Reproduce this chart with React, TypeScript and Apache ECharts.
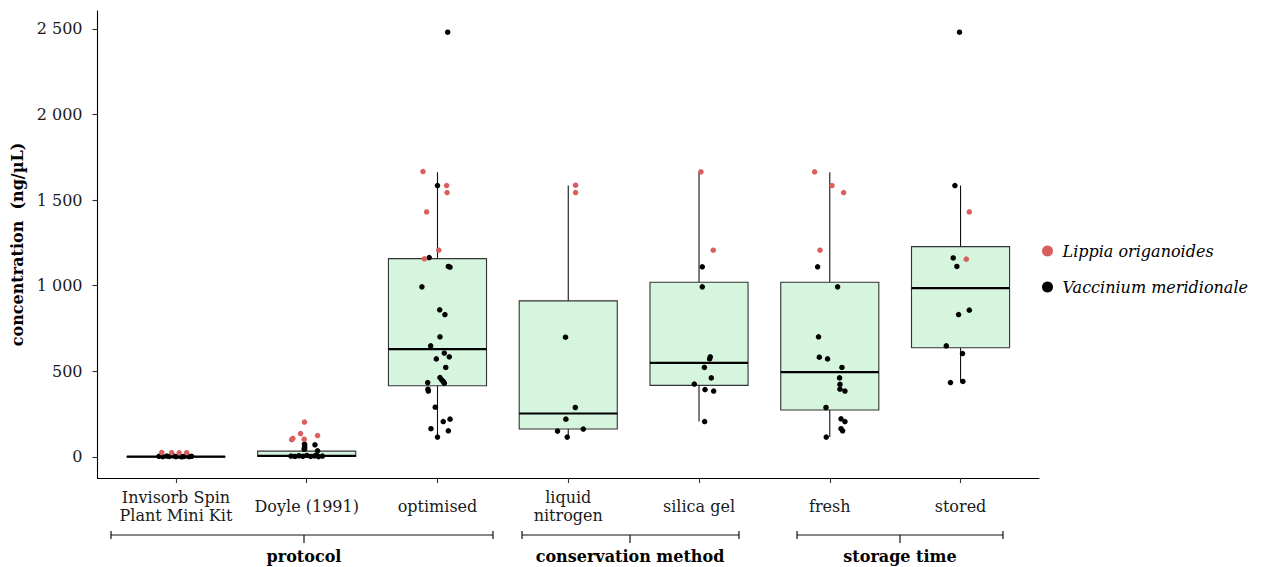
import React, { useEffect, useRef } from "react";
import * as echarts from "echarts";

const categories = [
  "Invisorb Spin\nPlant Mini Kit",
  "Doyle (1991)",
  "optimised",
  "liquid\nnitrogen",
  "silica gel",
  "fresh",
  "stored",
];
const yTicks = [0, 500, 1000, 1500, 2000, 2500];

const boxMin = [0, 0, 115, 115, 206, 115, 436];
const boxQ1 = [0, 2, 415, 162, 417, 273, 637];
const boxMedian = [1, 5, 629, 253, 549, 495, 985];
const boxQ3 = [2, 33, 1158, 911, 1020, 1020, 1228];
const boxMax = [6, 74, 1663, 1585, 1665, 1663, 1585];

// [category index, jitter, concentration]
const lippia: number[][] = [
  [0, -0.109, 25], [0, -0.033, 24], [0, 0.025, 23], [0, 0.082, 24],
  [1, -0.017, 203], [1, -0.047, 136], [1, -0.106, 107], [1, -0.115, 100], [1, -0.019, 103], [1, 0.083, 124],
  [2, -0.111, 1667], [2, 0.07, 1585], [2, 0.073, 1544], [2, -0.083, 1431], [2, 0.01, 1207], [2, -0.1, 1157],
  [3, 0.056, 1587], [3, 0.056, 1544],
  [4, 0.015, 1665], [4, 0.109, 1207],
  [5, -0.116, 1665], [5, 0.017, 1585], [5, 0.106, 1544], [5, -0.075, 1207],
  [6, 0.067, 1431], [6, 0.044, 1155],
];

const vaccinium: number[][] = [
  [0, -0.13, 3], [0, -0.1, 1], [0, -0.07, 4], [0, -0.05, 2], [0, -0.02, 5], [0, 0.0, 1],
  [0, 0.03, 3], [0, 0.06, 2], [0, 0.08, 6], [0, 0.1, 1], [0, 0.12, 3], [0, -0.11, 6], [0, 0.045, 0],
  [1, -0.017, 74], [1, 0.063, 70], [1, -0.017, 57], [1, 0.083, 35], [1, -0.02, 45],
  [1, -0.12, 4], [1, -0.09, 2], [1, -0.06, 6], [1, -0.03, 3], [1, 0.0, 8], [1, 0.03, 2],
  [1, 0.06, 5], [1, 0.09, 1], [1, 0.12, 4], [1, 0.075, 9],
  [2, 0.078, 2481], [2, 0.0, 1585], [2, -0.063, 1164], [2, 0.083, 1112], [2, 0.096, 1108],
  [2, -0.119, 993], [2, 0.017, 859], [2, 0.057, 831], [2, 0.019, 701], [2, -0.052, 648],
  [2, 0.052, 606], [2, 0.09, 584], [2, -0.009, 572], [2, 0.063, 522], [2, 0.019, 463],
  [2, 0.032, 450], [2, 0.044, 440], [2, 0.052, 430], [2, -0.075, 434], [2, -0.073, 395],
  [2, -0.07, 384], [2, -0.017, 290], [2, 0.096, 220], [2, 0.044, 206], [2, -0.05, 164],
  [2, 0.083, 152], [2, 0.0, 115],
  [3, -0.021, 699], [3, 0.054, 288], [3, -0.018, 220], [3, 0.115, 162], [3, -0.082, 150], [3, -0.008, 115],
  [4, 0.025, 1110], [4, 0.025, 993], [4, 0.086, 584], [4, 0.081, 572], [4, 0.041, 522],
  [4, 0.094, 461], [4, -0.036, 425], [4, 0.046, 393], [4, 0.112, 384], [4, 0.043, 206],
  [5, -0.093, 1110], [5, 0.06, 993], [5, -0.086, 701], [5, -0.08, 582], [5, -0.017, 572],
  [5, 0.093, 522], [5, 0.075, 461], [5, 0.078, 423], [5, 0.078, 395], [5, 0.116, 384],
  [5, -0.029, 288], [5, 0.086, 222], [5, 0.116, 206], [5, 0.086, 164], [5, 0.098, 152], [5, -0.027, 115],
  [6, -0.008, 2481], [6, -0.043, 1585], [6, -0.056, 1162], [6, -0.028, 1112], [6, 0.067, 857],
  [6, -0.015, 831], [6, -0.109, 648], [6, 0.015, 603], [6, -0.077, 434], [6, 0.018, 440],
];

const groupLabels = ["protocol", "conservation method", "storage time"];
const bracketGeom = [
  { x1: 111, x2: 493, xc: 304 },
  { x1: 522, x2: 739, xc: 630 },
  { x1: 797, x2: 1003, xc: 900 },
];

const FONT = '"DejaVu Serif", serif';

export default function App() {
  const ref = useRef<HTMLDivElement>(null);
  useEffect(() => {
    if (!ref.current) return;
    const chart = echarts.init(ref.current, null, { renderer: "svg" });

    const boxData = categories.map((_, i) => [i, boxMin[i], boxQ1[i], boxMedian[i], boxQ3[i], boxMax[i]]);

    const graphics: any[] = [];
    const by = 535;
    bracketGeom.forEach((g, i) => {
      const st = { stroke: "#111", lineWidth: 1.2 };
      graphics.push({ type: "line", shape: { x1: g.x1, y1: by, x2: g.x2, y2: by }, style: st });
      graphics.push({ type: "line", shape: { x1: g.x1, y1: by - 4, x2: g.x1, y2: by + 4 }, style: st });
      graphics.push({ type: "line", shape: { x1: g.x2, y1: by - 4, x2: g.x2, y2: by + 4 }, style: st });
      graphics.push({ type: "line", shape: { x1: g.xc, y1: by, x2: g.xc, y2: by + 8 }, style: st });
      graphics.push({
        type: "text",
        x: g.xc,
        y: 556,
        style: {
          text: groupLabels[i],
          font: `bold 16px ${FONT}`,
          fill: "#000",
          textAlign: "center",
          align: "center",
          textVerticalAlign: "middle",
          verticalAlign: "middle",
        },
      });
    });

    chart.setOption({
      animation: false,
      grid: { left: 97.5, right: 227, top: 11, bottom: 89, containLabel: false },
      legend: {
        orient: "vertical",
        left: 1037,
        top: 238,
        itemWidth: 20,
        itemHeight: 11,
        itemGap: 20,
        icon: "circle",
        textStyle: { fontFamily: FONT, fontStyle: "italic", fontSize: 16, color: "#000" },
        data: ["Lippia origanoides", "Vaccinium meridionale"],
      },
      xAxis: {
        type: "value",
        min: -0.6,
        max: 6.6,
        splitLine: { show: false },
        axisLine: { show: true, onZero: false, lineStyle: { color: "#000", width: 1.1 } },
        axisTick: {
          show: true,
          length: 5,
          customValues: categories.map((_, i) => i),
          lineStyle: { color: "#333", width: 1.1 },
        },
        axisLabel: {
          show: true,
          customValues: categories.map((_, i) => i),
          formatter: (v: number) => categories[Math.round(v)] ?? "",
          fontFamily: FONT,
          fontSize: 16,
          color: "#1a1a1a",
          lineHeight: 18,
          margin: 28,
          verticalAlign: "middle",
        },
      },
      yAxis: {
        type: "value",
        min: -124,
        max: 2605,
        splitLine: { show: false },
        name: "concentration  (ng/µL)",
        nameLocation: "middle",
        nameGap: 68,
        nameTextStyle: { fontFamily: FONT, fontWeight: "bold", fontSize: 16, color: "#000" },
        axisLine: { show: true, onZero: false, lineStyle: { color: "#000", width: 1.1 } },
        axisTick: { show: true, length: 5, customValues: yTicks, lineStyle: { color: "#333", width: 1.1 } },
        axisLabel: {
          show: true,
          customValues: yTicks,
          formatter: (v: number) => (v >= 1000 ? `${Math.floor(v / 1000)} ${String(v % 1000).padStart(3, "0")}` : `${v}`),
          fontFamily: FONT,
          fontSize: 16,
          color: "#1a1a1a",
          margin: 15,
        },
      },
      series: [
        {
          type: "custom",
          name: "box",
          data: boxData,
          encode: { x: 0, y: [1, 2, 3, 4, 5] },
          silent: true,
          renderItem: (params: any, api: any) => {
            const x = api.value(0);
            const cx = api.coord([x, 0])[0];
            const yMin = api.coord([x, api.value(1)])[1];
            const yQ1 = api.coord([x, api.value(2)])[1];
            const yMed = api.coord([x, api.value(3)])[1];
            const yQ3 = api.coord([x, api.value(4)])[1];
            const yMax = api.coord([x, api.value(5)])[1];
            const half = api.size([0.75, 0])[0] / 2;
            const ws = { stroke: "#111", lineWidth: 1.1 };
            return {
              type: "group",
              children: [
                { type: "line", shape: { x1: cx, y1: yQ3, x2: cx, y2: yMax }, style: ws },
                { type: "line", shape: { x1: cx, y1: yMin, x2: cx, y2: yQ1 }, style: ws },
                {
                  type: "rect",
                  shape: { x: cx - half, y: yQ3, width: 2 * half, height: Math.max(yQ1 - yQ3, 0.5) },
                  style: { fill: "#d6f5de", stroke: "#333", lineWidth: 1.1 },
                },
                { type: "line", shape: { x1: cx - half, y1: yMed, x2: cx + half, y2: yMed }, style: { stroke: "#000", lineWidth: 2.2 } },
              ],
            };
          },
          z: 1,
        },
        {
          type: "scatter",
          name: "Vaccinium meridionale",
          data: vaccinium.map((p) => [p[0] + p[1], p[2]]),
          symbolSize: 5.5,
          itemStyle: { color: "#000", opacity: 1 },
          z: 3,
        },
        {
          type: "scatter",
          name: "Lippia origanoides",
          data: lippia.map((p) => [p[0] + p[1], p[2]]),
          symbolSize: 5.5,
          itemStyle: { color: "#d95f5f", opacity: 1 },
          z: 3,
        },
      ],
      graphic: graphics,
    });

    return () => chart.dispose();
  }, []);

  return <div ref={ref} style={{ width: 1266, height: 567, position: "absolute", left: 0, top: 0 }} />;
}
